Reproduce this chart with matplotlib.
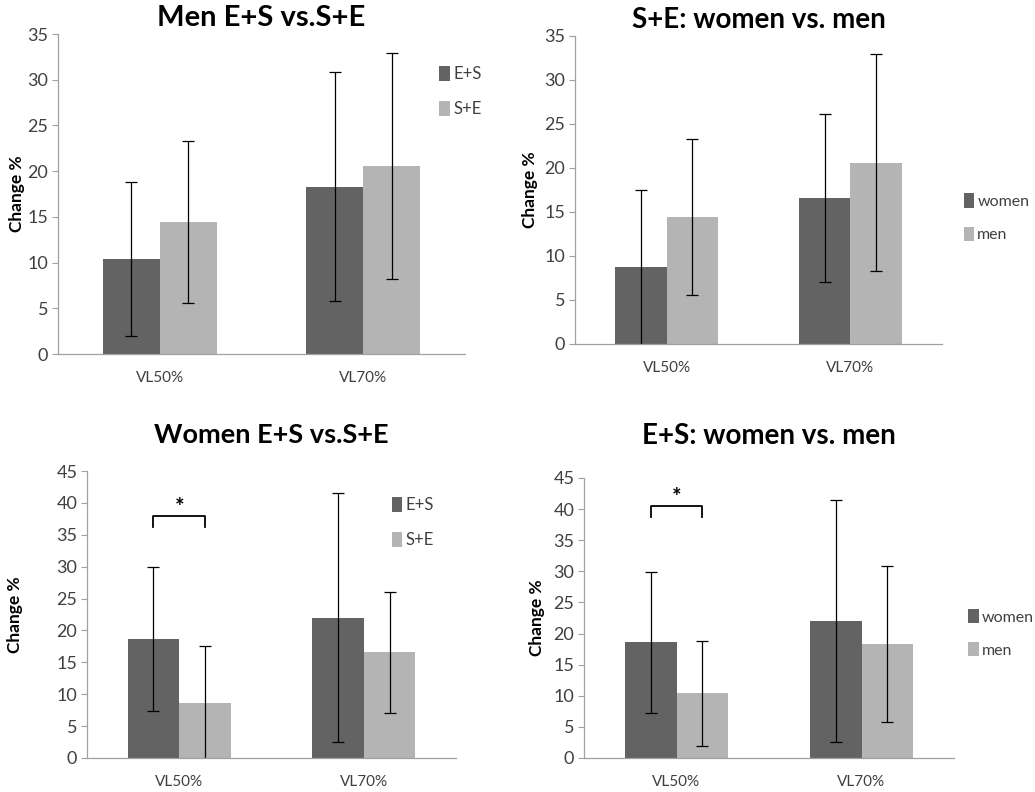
import matplotlib
matplotlib.use("Agg")
import matplotlib.pyplot as plt
import numpy as np

plt.rcParams['font.family'] = ['Lato', 'DejaVu Sans']

# data (mean change %, SD)
categories = ["VL50%", "VL70%"]
men_es = [10.4, 18.3]
men_es_sd = [8.4, 12.5]
men_se = [14.4, 20.6]
men_se_sd = [8.85, 12.35]
women_es = [18.6, 22.0]
women_es_sd = [11.3, 19.5]
women_se = [8.7, 16.6]
women_se_sd = [8.8, 9.5]

DARK = "#636363"
LIGHT = "#b4b4b4"
AXIS = "#a0a0a0"
TXT = "#404040"

W, H = 1035, 792
fig = plt.figure(figsize=(W / 100, H / 100), dpi=100)


def px_axes(x0, x1, y0, y1):
    # y0 = top pixel, y1 = bottom pixel
    return fig.add_axes([x0 / W, (H - y1) / H, (x1 - x0) / W, (y1 - y0) / H])


def bar_panel(ax, a, a_sd, b, b_sd, labels, ymax, title, title_y, title_fs,
              leg_anchor, leg_fs):
    x = np.arange(len(categories))
    bw = 0.28
    ax.bar(x - bw / 2, a, bw, color=DARK, label=labels[0])
    ax.bar(x + bw / 2, b, bw, color=LIGHT, label=labels[1])
    ax.errorbar(x - bw / 2, a, yerr=a_sd, fmt="none", ecolor="black",
                elinewidth=0.9, capsize=4, capthick=0.9)
    ax.errorbar(x + bw / 2, b, yerr=b_sd, fmt="none", ecolor="black",
                elinewidth=0.9, capsize=4, capthick=0.9)
    ax.set_xlim(-0.5, 1.5)
    ax.set_ylim(0, ymax)
    ax.set_yticks(np.arange(0, ymax + 1, 5))
    ax.set_xticks(x)
    ax.set_xticklabels(categories, fontsize=11, color=TXT)
    ax.tick_params(axis="x", length=0, pad=12)
    ax.tick_params(axis="y", labelsize=13, labelcolor=TXT, color=AXIS,
                   length=4, width=0.8, pad=3)
    for s in ("top", "right"):
        ax.spines[s].set_visible(False)
    for s in ("left", "bottom"):
        ax.spines[s].set_color(AXIS)
        ax.spines[s].set_linewidth(0.9)
    ax.set_ylabel("Change %", fontsize=12.5, fontweight="bold", color="black")
    ax.set_title(title, fontsize=title_fs, fontweight="bold", y=title_y)
    ax.legend(loc="center left", bbox_to_anchor=leg_anchor, frameon=False,
              handlelength=0.65, handleheight=1.0, handletextpad=0.2,
              labelspacing=1.1, fontsize=leg_fs, labelcolor=TXT)
    return bw


def bracket(ax, bw, top, drop, star_y):
    xs = [-bw / 2, -bw / 2, bw / 2, bw / 2]
    ax.plot(xs, [top - drop, top, top, top - drop], color="black", lw=1.3)
    ax.text(0, star_y, "*", ha="center", va="center", fontsize=16,
            fontweight="bold")


# top left: Men E+S vs. S+E
ax1 = px_axes(58, 465, 34, 354)
bar_panel(ax1, men_es, men_es_sd, men_se, men_se_sd, ["E+S", "S+E"], 35,
          "Men E+S vs.S+E", 1.0, 21, (0.9, 0.82), 12)
ax1.yaxis.set_label_coords(-0.081, 0.5)

# top right: S+E women vs. men
ax2 = px_axes(575, 942, 36, 344)
bar_panel(ax2, women_se, women_se_sd, men_se, men_se_sd, ["women", "men"], 35,
          "S+E: women vs. men", 1.0, 20, (1.02, 0.41), 11.5)
ax2.yaxis.set_label_coords(-0.1, 0.5)

# bottom left: Women E+S vs. S+E
ax3 = px_axes(87, 456, 471, 758)
bw = bar_panel(ax3, women_es, women_es_sd, women_se, women_se_sd,
               ["E+S", "S+E"], 45, "Women E+S vs.S+E", 1.07, 19.5,
               (0.785, 0.82), 12)
ax3.yaxis.set_label_coords(-0.173, 0.5)
bracket(ax3, bw, 37.9, 1.7, 39.2)

# bottom right: E+S women vs. men
ax4 = px_axes(584, 954, 478, 758)
bw = bar_panel(ax4, women_es, women_es_sd, men_es, men_es_sd,
               ["women", "men"], 45, "E+S: women vs. men", 1.09, 20,
               (1.0, 0.445), 11.5)
ax4.yaxis.set_label_coords(-0.105, 0.5)
bracket(ax4, bw, 40.5, 1.8, 41.9)

fig.savefig("out.png", dpi=100, facecolor="white")
